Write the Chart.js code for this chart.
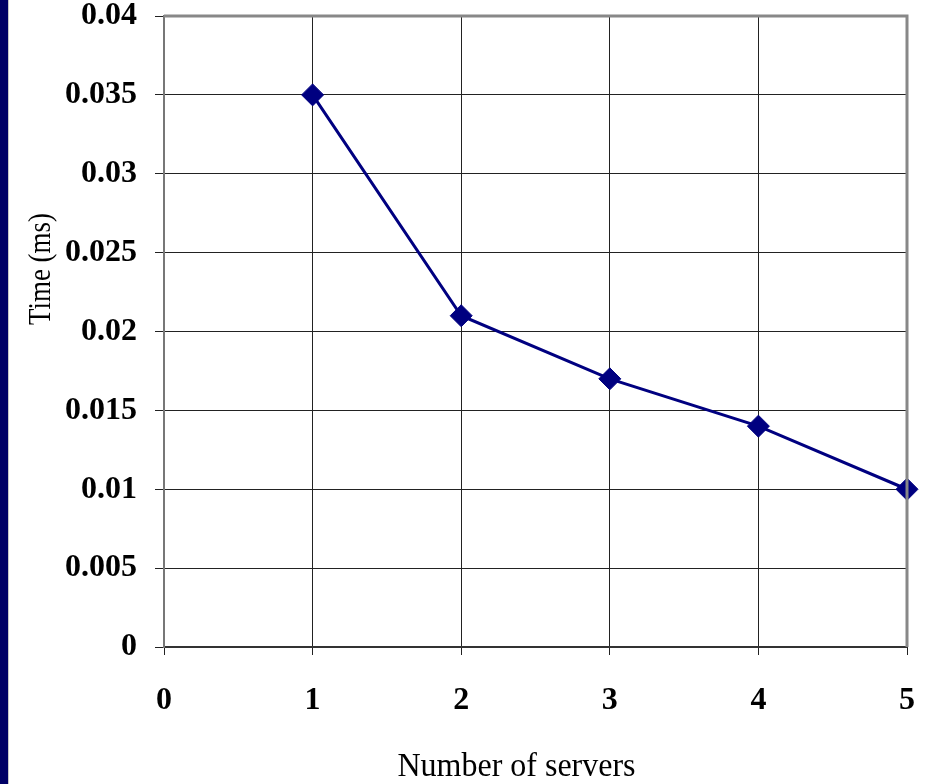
<!DOCTYPE html>
<html>
<head>
<meta charset="utf-8">
<script src="https://cdn.jsdelivr.net/npm/chart.js@4/dist/chart.umd.min.js"></script>
<style>
  html, body { margin: 0; padding: 0; background: #ffffff; }
  #wrap { position: relative; width: 928px; height: 784px; }
  #strip { position: absolute; left: 0; top: 0; width: 8px; height: 784px; background: #000066; border-right: 1px solid #c8c8c8; z-index: 2; }
  canvas { position: absolute; left: 0; top: 0; }
</style>
</head>
<body>
<div id="wrap">
  <div id="strip"></div>
  <canvas id="chart" width="928" height="784"></canvas>
</div>
<script>
// Response time versus number of servers
const servers = [1, 2, 3, 4, 5];
const timeMs = [0.035, 0.021, 0.017, 0.014, 0.010];

const xTicks = [0, 1, 2, 3, 4, 5];
const yTicks = [0, 0.005, 0.01, 0.015, 0.02, 0.025, 0.03, 0.035, 0.04];

const xTitle = 'Number of servers';
const yTitle = 'Time (ms)';

const FONT = '"Liberation Serif", "Times New Roman", serif';

// Gray frame on the top and right edges of the plot area
const frame = {
  id: 'frame',
  afterDraw(chart) {
    const { ctx, chartArea: a } = chart;
    ctx.save();
    ctx.strokeStyle = '#888888';
    ctx.lineWidth = 3;
    ctx.beginPath();
    ctx.moveTo(a.left, a.top);
    ctx.lineTo(a.right, a.top);
    ctx.lineTo(a.right, a.bottom);
    ctx.stroke();
    ctx.restore();
  }
};

// Axis titles in a slightly condensed serif, placed a little off the plot centre
const axisTitles = {
  id: 'axisTitles',
  afterDraw(chart) {
    const { ctx, chartArea: a } = chart;
    ctx.save();
    ctx.fillStyle = '#000000';
    ctx.textAlign = 'center';
    ctx.textBaseline = 'middle';
    ctx.font = '32px ' + FONT;

    ctx.save();
    ctx.translate((a.left + a.right) / 2 - 19, chart.height - 17);
    ctx.scale(1, 1.08);
    ctx.fillText(xTitle, 0, 0);
    ctx.restore();

    ctx.save();
    ctx.translate(42, a.top + 253);
    ctx.rotate(-Math.PI / 2);
    ctx.scale(0.84, 1);
    ctx.fillText(yTitle, 0, 0);
    ctx.restore();

    ctx.restore();
  }
};

// Fixed axis box sizes; label overhang is not reserved
function fixBox(scale, size) {
  if (scale.isHorizontal()) scale.height = size; else scale.width = size;
  scale.paddingTop = 0;
  scale.paddingBottom = 0;
  scale.paddingLeft = 0;
  scale.paddingRight = 0;
}

new Chart(document.getElementById('chart'), {
  type: 'line',
  data: {
    datasets: [{
      data: servers.map((s, i) => ({ x: s, y: timeMs[i] })),
      borderColor: '#000080',
      backgroundColor: '#000080',
      borderWidth: 3,
      pointStyle: 'rectRot',
      pointRadius: 11,
      pointBorderWidth: 1,
      pointBackgroundColor: '#000080',
      pointBorderColor: '#000080',
      tension: 0,
      clip: false
    }]
  },
  options: {
    responsive: false,
    animation: false,
    layout: { padding: { left: 0, right: 21, top: 16, bottom: 0 } },
    plugins: { legend: { display: false }, tooltip: { enabled: false } },
    scales: {
      x: {
        type: 'linear',
        min: xTicks[0],
        max: xTicks[xTicks.length - 1],
        afterBuildTicks(scale) { scale.ticks = xTicks.map(v => ({ value: v })); },
        afterFit(scale) { fixBox(scale, 137); },
        grid: { color: '#222222', lineWidth: 1, tickLength: 8, tickColor: '#222222' },
        border: { color: '#333333', width: 2 },
        ticks: {
          padding: 30,
          color: '#000000',
          font: { family: FONT, size: 32, weight: 'bold', lineHeight: 1 },
          callback: v => String(v)
        },
        title: { display: false }
      },
      y: {
        type: 'linear',
        min: yTicks[0],
        max: yTicks[yTicks.length - 1],
        afterBuildTicks(scale) { scale.ticks = yTicks.map(v => ({ value: v })); },
        afterFit(scale) { fixBox(scale, 164); },
        grid: { color: '#222222', lineWidth: 1, tickLength: 9, tickColor: '#222222' },
        border: { color: '#777777', width: 2 },
        ticks: {
          padding: 18,
          color: '#000000',
          font: { family: FONT, size: 32, weight: 'bold', lineHeight: 1 },
          callback: v => String(Number(v.toFixed(3)))
        },
        title: { display: false }
      }
    }
  },
  plugins: [frame, axisTitles]
});
</script>
</body>
</html>
